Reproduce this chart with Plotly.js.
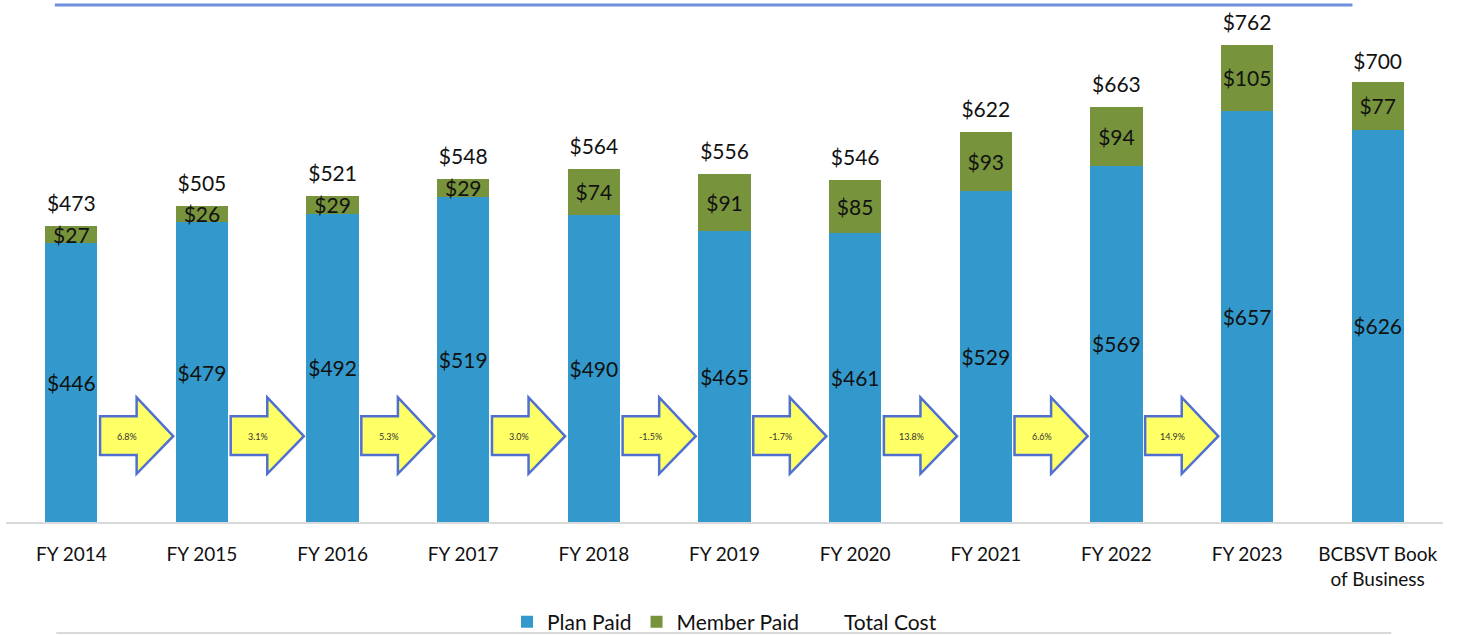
<!DOCTYPE html>
<html>
<head>
<meta charset="utf-8">
<script src="https://cdn.plot.ly/plotly-3.0.1.min.js"></script>
<style>
html,body{margin:0;padding:0;background:#fff;}
#chart{width:1460px;height:635px;}
</style>
</head>
<body>
<div id="chart"></div>
<script>
// ---- data ----
const categories = ["FY 2014","FY 2015","FY 2016","FY 2017","FY 2018","FY 2019","FY 2020","FY 2021","FY 2022","FY 2023","BCBSVT Book<br>of Business"];
const planPaid   = [446,479,492,519,490,465,461,529,569,657,626];
const memberPaid = [27,26,29,29,74,91,85,93,94,105,77];
const totalCost  = [473,505,521,548,564,556,546,622,663,762,700];
const growthLabels = ["6.8%","3.1%","5.3%","3.0%","-1.5%","-1.7%","13.8%","6.6%","14.9%"];

// ---- styling ----
const FONT = "Lato, 'Open Sans', sans-serif";
const BLUE = "#3399cc";
const GREEN = "#77933c";
const idx = categories.map((c,i)=>i);

const traces = [
  {
    type:"bar", name:"Plan Paid", x:idx, y:planPaid,
    marker:{color:BLUE},
    text:planPaid.map(v=>"$"+v), textposition:"inside", insidetextanchor:"middle",
    textangle:0, constraintext:"none",
    textfont:{family:FONT,size:21,color:"#111"},
    hoverinfo:"skip"
  },
  {
    type:"bar", name:"Member Paid", x:idx, y:memberPaid,
    marker:{color:GREEN},
    text:memberPaid.map(v=>"$"+v), textposition:"inside", insidetextanchor:"middle",
    textangle:0, constraintext:"none",
    textfont:{family:FONT,size:21,color:"#111"},
    hoverinfo:"skip"
  },
  {
    type:"scatter", mode:"markers+text", name:"Total Cost", x:idx, y:totalCost,
    marker:{size:14,color:"rgba(0,0,0,0)"},
    text:totalCost.map(v=>"$"+v), textposition:"top center",
    textfont:{family:FONT,size:21,color:"#111"},
    cliponaxis:false, hoverinfo:"skip"
  }
];

// arrows between consecutive years (geometry relative to category index)
const shapes = [];
const annotations = [];
growthLabels.forEach((g,i)=>{
  const x0=i+0.22, xh=i+0.50, xt=i+0.78;
  const bTop=169, bBot=107, hTop=199, hBot=77, tip=137;
  shapes.push({
    type:"path", xref:"x", yref:"y",
    path:`M ${x0},${bBot} L ${x0},${bTop} L ${xh},${bTop} L ${xh},${hTop} L ${xt},${tip} L ${xh},${hBot} L ${xh},${bBot} Z`,
    fillcolor:"#ffff66", line:{color:"#4f70d0",width:2.5}, layer:"above"
  });
  annotations.push({
    x:i+0.43, y:tip, xref:"x", yref:"y", text:g, showarrow:false,
    font:{family:FONT,size:9,color:"#333"}
  });
});
// top blue rule and bottom gray rule
shapes.push({type:"line",xref:"paper",yref:"paper",x0:0.034,x1:0.937,y0:1.032,y1:1.032,line:{color:"#6f8fdc",width:3}});
shapes.push({type:"line",xref:"paper",yref:"paper",x0:0.035,x1:0.964,y0:-0.2216,y1:-0.2216,line:{color:"#d9d9d9",width:2}});

const layout = {
  width:1460, height:635,
  margin:{l:6,r:17,t:21,b:113,autoexpand:false},
  paper_bgcolor:"#fff", plot_bgcolor:"#fff",
  barmode:"stack", bargap:0.6,
  font:{family:FONT,color:"#111"},
  xaxis:{
    range:[-0.5,10.5], tickvals:idx, ticktext:categories,
    showline:true, linecolor:"#d9d9d9", linewidth:1.5,
    showgrid:false, zeroline:false, ticks:"", ticklabelstandoff:15,
    automargin:false,
    tickfont:{family:FONT,size:19,color:"#111"}, fixedrange:true
  },
  yaxis:{range:[0,800], visible:false, showgrid:false, zeroline:false, fixedrange:true},
  showlegend:true,
  legend:{orientation:"h", x:0.5, xanchor:"center", y:-0.2, yanchor:"middle",
    bgcolor:"rgba(0,0,0,0)",
    font:{family:FONT,size:21,color:"#111"}, traceorder:"normal", itemwidth:30},
  shapes:shapes, annotations:annotations
};

Plotly.newPlot("chart", traces, layout, {displayModeBar:false, staticPlot:true});
</script>
</body>
</html>
